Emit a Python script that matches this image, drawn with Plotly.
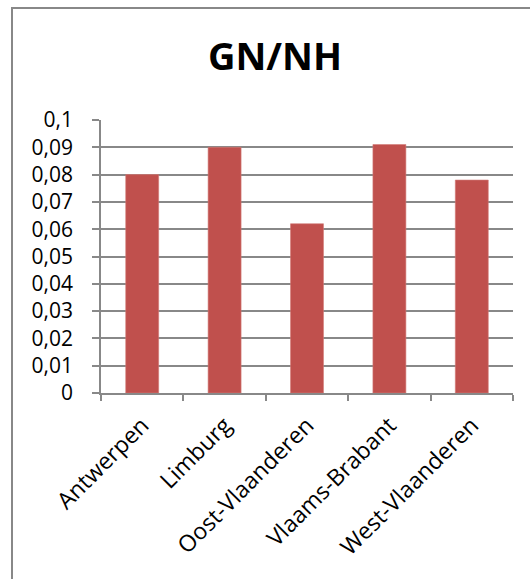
import plotly.graph_objects as go

# Data
provinces = ["Antwerpen", "Limburg", "Oost-Vlaanderen", "Vlaams-Brabant", "West-Vlaanderen"]
gn_nh = [0.080, 0.090, 0.062, 0.091, 0.078]
title_text = "GN/NH"

W, H = 530, 579
ML, MR, MT, MB = 101, 17, 120, 186
pw, ph = W - ML - MR, H - MT - MB

def px_x(x):
    return (x - ML) / pw

def px_y(y):
    return (H - MB - y) / ph

grey = "#888888"
font_family = "Open Sans, Calibri, sans-serif"

fig = go.Figure(
    go.Bar(
        x=provinces,
        y=gn_nh,
        marker=dict(color="#C0504D", line=dict(color="#D27A77", width=0.6)),
        width=0.4,
    )
)

# chart-area frame: only its left and top edges fall inside the page
frame = [
    dict(type="line", xref="paper", yref="paper",
         x0=px_x(12), x1=px_x(12), y0=px_y(H), y1=px_y(8),
         line=dict(color=grey, width=2), layer="above"),
    dict(type="line", xref="paper", yref="paper",
         x0=px_x(11), x1=px_x(W), y0=px_y(8), y1=px_y(8),
         line=dict(color=grey, width=2), layer="above"),
]

fig.update_layout(
    width=W,
    height=H,
    margin=dict(l=ML, r=MR, t=MT, b=MB),
    paper_bgcolor="white",
    plot_bgcolor="white",
    separators=", ",
    showlegend=False,
    font=dict(family=font_family, color="black", size=21),
    title=dict(
        text="<b>" + title_text + "</b>",
        x=275 / W,
        xanchor="center",
        y=1 - 57 / H,
        yanchor="middle",
        font=dict(family=font_family, size=38, color="black"),
    ),
    xaxis=dict(
        type="category",
        tickangle=-45,
        showline=True,
        linecolor=grey,
        linewidth=1.5,
        ticks="outside",
        tickson="boundaries",
        ticklen=6,
        tickcolor=grey,
        tickwidth=1.5,
        showgrid=False,
        ticklabelstandoff=8,
        tickfont=dict(size=23),
    ),
    yaxis=dict(
        range=[0, 0.1],
        tick0=0,
        dtick=0.01,
        showline=True,
        linecolor=grey,
        linewidth=1.5,
        ticks="outside",
        ticklen=7,
        tickcolor=grey,
        tickwidth=1.5,
        showgrid=True,
        gridcolor=grey,
        gridwidth=1.5,
        zeroline=False,
        ticklabelstandoff=15,
        tickfont=dict(size=21),
    ),
    shapes=frame,
)

# keep the page itself from adding margins or scrollbars around the figure
fig.write_html(
    "out.html",
    post_script="document.body.style.margin='0';"
                "document.documentElement.style.overflow='hidden';"
                "document.body.style.overflow='hidden';",
)
